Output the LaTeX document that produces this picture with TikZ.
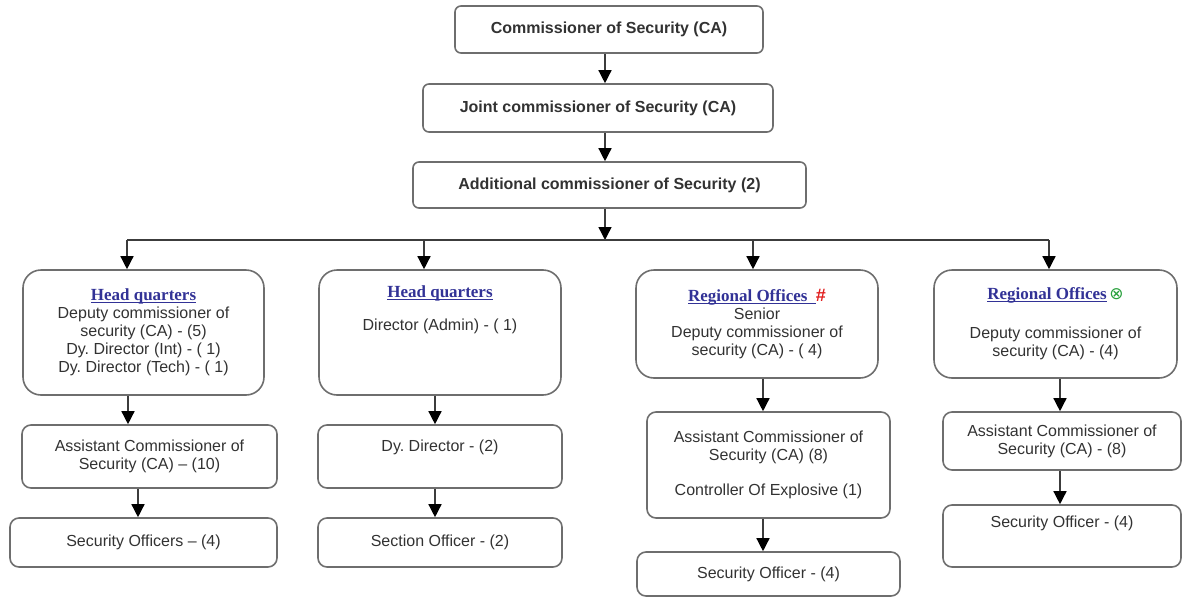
\documentclass[tikz,border=0pt]{standalone}
\usepackage{fontspec}
\setmainfont{Liberation Sans}
\newfontfamily\headfont{Liberation Serif}
\newfontfamily\symfont{DejaVu Sans}
\usetikzlibrary{arrows.meta,positioning}
\frenchspacing
\definecolor{boxgray}{RGB}{110,110,110}
\definecolor{linkgray}{RGB}{60,60,60}
\definecolor{orgtext}{RGB}{50,50,50}
\definecolor{headblue}{RGB}{50,50,150}
\definecolor{markred}{RGB}{225,30,30}
\definecolor{markgreen}{RGB}{40,160,60}
\newcommand{\orghead}[1]{{\headfont\bfseries\fontsize{17}{18}\selectfont\color{headblue}\underline{\raisebox{0pt}[\height][0pt]{#1}}}}
\newcommand{\boxlift}[2]{\raisebox{#1}[0pt][0pt]{\begin{tabular}{@{}c@{}}#2\end{tabular}}}
\tikzset{
  topbox/.style  ={rectangle, rounded corners=6pt, draw=boxgray, line width=1.6pt,
                   font=\bfseries\fontsize{16}{18}\selectfont, text=orgtext, inner sep=0pt},
  unitbox/.style ={rectangle, rounded corners=18pt, draw=boxgray, line width=1.6pt, align=center,
                   font=\fontsize{16}{18}\selectfont, text=orgtext, inner sep=0pt},
  staffbox/.style={unitbox, rounded corners=9pt},
  orgarrow/.style={-{Triangle[width=13pt,length=13pt,color=black]}, line width=1.4pt, draw=linkgray},
  busline/.style ={line width=1.4pt, draw=linkgray},
}
\begin{document}
\begin{tikzpicture}[x=1pt, y=-1pt]
  \useasboundingbox (0,0) rectangle (1185,597);
  \node[topbox, minimum width=308, minimum height=47] (comm)  at (609,29.5)  {Commissioner of Security (CA)};
  \node[topbox, minimum width=350, minimum height=48] (joint) at (598,108)   {Joint commissioner of Security (CA)};
  \node[topbox, minimum width=393, minimum height=46] (addl)  at (609.5,185) {Additional commissioner of Security (2)};

  \node[unitbox, minimum width=241, minimum height=125] (hq1) at (143.5,332.5)
    {\orghead{Head quarters}\\Deputy commissioner of\\security (CA) - (5)\\Dy. Director (Int) - ( 1)\\Dy. Director (Tech) - ( 1)};
  \node[unitbox, minimum width=242, minimum height=125] (hq2) at (440,332.5)
    {\boxlift{17.5pt}{\orghead{Head quarters}\\[15pt]Director (Admin) - ( 1)}};
  \node[unitbox, minimum width=242, minimum height=108] (ro1) at (757,324)
    {\orghead{Regional Offices\ \ }{\color{markred}\bfseries\fontsize{18}{18}\selectfont\#}\\Senior\\Deputy commissioner of\\security (CA) - ( 4)};
  \node[unitbox, minimum width=243, minimum height=108] (ro2) at (1055.5,324)
    {\orghead{Regional Offices}\,{\symfont\fontsize{17}{18}\selectfont\color{markgreen}⊗}\\[21pt]Deputy commissioner of\\security (CA) - (4)};

  \node[staffbox, minimum width=255, minimum height=63]  (hq1a) at (149.5,456.5) {Assistant Commissioner of\\Security (CA) -- (10)};
  \node[staffbox, minimum width=244, minimum height=63]  (hq2a) at (440,456.5)   {\boxlift{4pt}{Dy. Director - (2)}};
  \node[staffbox, minimum width=243, minimum height=106] (ro1a) at (768.5,465)   {Assistant Commissioner of\\Security (CA) (8)\\[17pt]Controller Of Explosive (1)};
  \node[staffbox, minimum width=238, minimum height=58]  (ro2a) at (1062,441)    {Assistant Commissioner of\\Security (CA) - (8)};

  \node[staffbox, minimum width=267, minimum height=49] (hq1b) at (143.5,542.5) {Security Officers -- (4)};
  \node[staffbox, minimum width=244, minimum height=49] (hq2b) at (440,542.5)   {Section Officer - (2)};
  \node[staffbox, minimum width=263, minimum height=44] (ro1b) at (768.5,574)   {Security Officer - (4)};
  \node[staffbox, minimum width=238, minimum height=62] (ro2b) at (1062,536)    {\boxlift{7.5pt}{Security Officer - (4)}};

  \coordinate (bus) at (605,240);
  \coordinate (d1) at (127,240);
  \coordinate (d2) at (424,240);
  \coordinate (d3) at (753,240);
  \coordinate (d4) at (1049,240);
  \coordinate (c0) at (605,0);
  \coordinate (c1) at (128,0);
  \coordinate (c1b) at (138,0);
  \coordinate (c2) at (435,0);
  \coordinate (c3) at (763,0);
  \coordinate (c4) at (1060,0);

  \draw[orgarrow] (c0 |- comm.south) -- (c0 |- joint.north);
  \draw[orgarrow] (c0 |- joint.south) -- (c0 |- addl.north);
  \draw[orgarrow] (c0 |- addl.south) -- (bus);
  \draw[busline] (d1) -- (d4);
  \draw[orgarrow] (d1) -- (d1 |- hq1.north);
  \draw[orgarrow] (d2) -- (d2 |- hq2.north);
  \draw[orgarrow] (d3) -- (d3 |- ro1.north);
  \draw[orgarrow] (d4) -- (d4 |- ro2.north);

  \draw[orgarrow] (c1 |- hq1.south) -- (c1 |- hq1a.north);
  \draw[orgarrow] (c1b |- hq1a.south) -- (c1b |- hq1b.north);
  \draw[orgarrow] (c2 |- hq2.south) -- (c2 |- hq2a.north);
  \draw[orgarrow] (c2 |- hq2a.south) -- (c2 |- hq2b.north);
  \draw[orgarrow] (c3 |- ro1.south) -- (c3 |- ro1a.north);
  \draw[orgarrow] (c3 |- ro1a.south) -- (c3 |- ro1b.north);
  \draw[orgarrow] (c4 |- ro2.south) -- (c4 |- ro2a.north);
  \draw[orgarrow] (c4 |- ro2a.south) -- (c4 |- ro2b.north);
\end{tikzpicture}
\end{document}
